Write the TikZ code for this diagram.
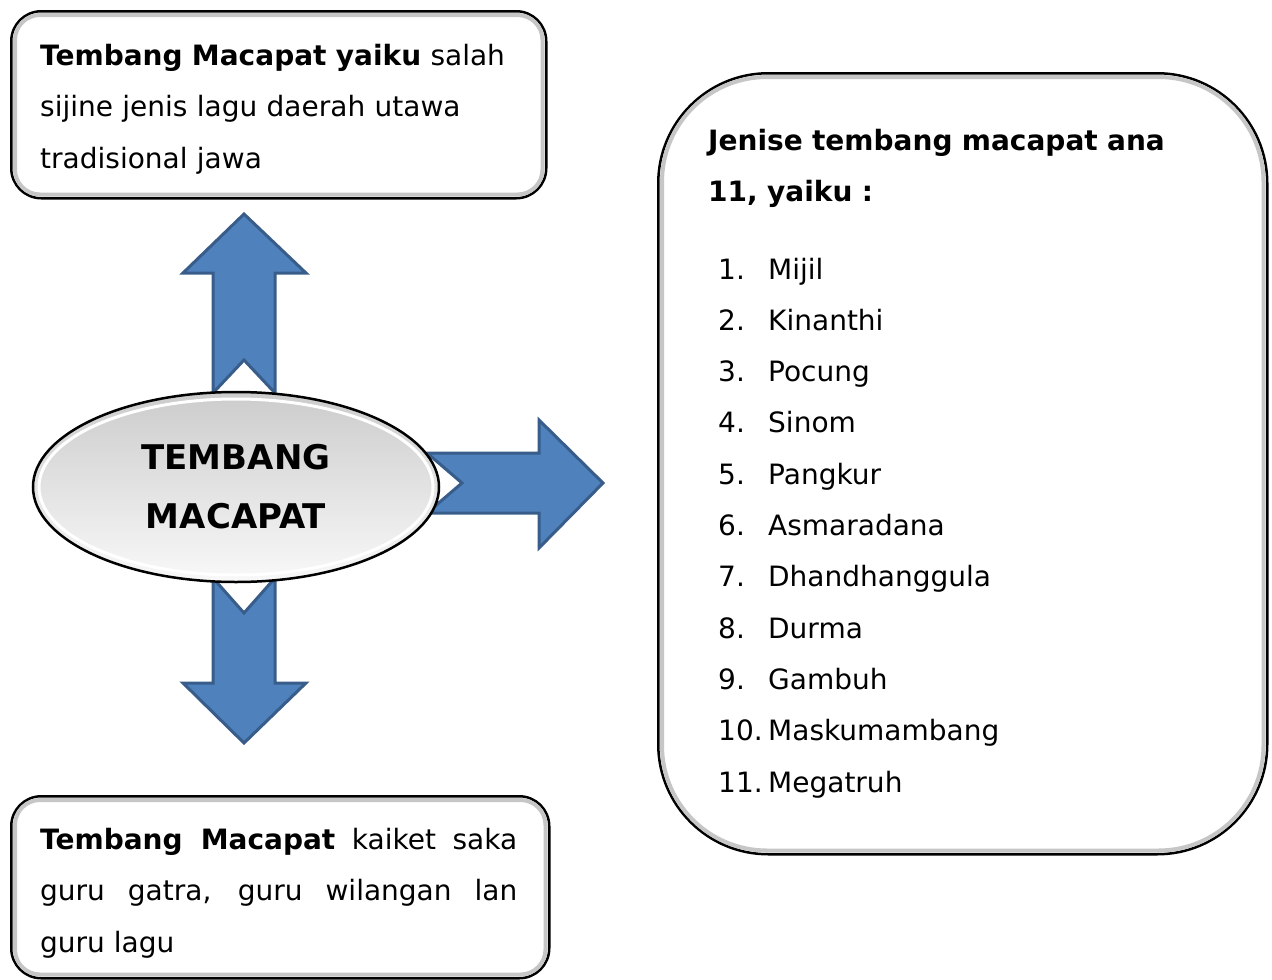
\documentclass[tikz,border=0pt]{standalone}
\usepackage{fontspec}
\setmainfont{DejaVu Sans}
\usetikzlibrary{shapes.geometric}

\definecolor{arrowfill}{HTML}{4F81BD}
\definecolor{arrowline}{HTML}{385D8A}

\tikzset{
  box/.style={draw=black, line width=2.5pt, fill=white, inner sep=0pt, anchor=north west},
  bevel/.style={draw=gray!45, line width=4pt},
  blockarrow/.style={fill=arrowfill, draw=arrowline, line width=3pt, line join=miter},
  body/.style={anchor=base west, inner sep=0pt, font=\fontsize{28}{51.5}\selectfont},
}

\begin{document}
\begin{tikzpicture}[x=1pt, y=-1pt]
  \useasboundingbox (0,0) rectangle (1272,980);

  % boxes
  \node[box, rounded corners=30pt, minimum width=535pt, minimum height=187pt] (defbox) at (10,10) {};
  \draw[bevel, rounded corners=25pt] ([shift={(5,5)}]defbox.north west) rectangle ([shift={(-5,-5)}]defbox.south east);
  \node[box, rounded corners=110pt, minimum width=609pt, minimum height=781pt] (jenisbox) at (657,72) {};
  \draw[bevel, rounded corners=105pt] ([shift={(5,5)}]jenisbox.north west) rectangle ([shift={(-5,-5)}]jenisbox.south east);
  \node[box, rounded corners=30pt, minimum width=538pt, minimum height=182pt] (aturanbox) at (10,795) {};
  \draw[bevel, rounded corners=25pt] ([shift={(5,5)}]aturanbox.north west) rectangle ([shift={(-5,-5)}]aturanbox.south east);

  % arrows
  \draw[blockarrow] (213,393) -- (213,273) -- (183,273) -- (244,214) -- (306,273) -- (275,273) -- (275,393) -- (244,360) -- cycle;
  \draw[blockarrow] (213,578) -- (244,613) -- (275,578) -- (275,683) -- (306,683) -- (244,743) -- (183,683) -- (213,683) -- cycle;
  \draw[blockarrow] (427,453) -- (539,453) -- (539,420) -- (603,483) -- (539,548) -- (539,513) -- (427,513) -- (462,483) -- cycle;

  % centre
  \node[ellipse, draw=black, line width=2.5pt, top color=gray!40, bottom color=gray!5,
        minimum width=406pt, minimum height=190pt, align=center,
        font=\bfseries\fontsize{34}{59}\selectfont] (tembang) at (236,487) {TEMBANG\\MACAPAT};
  \draw[white, line width=3pt] (tembang.center) ellipse (197 and 88);

  % texts
  \node[body, text width=490pt, align=left] (definisi) at (40,65)
    {\textbf{Tembang Macapat yaiku} salah\\sijine jenis lagu daerah utawa\\tradisional jawa};
  \node[body, text width=540pt, align=left, font=\bfseries\fontsize{28}{51}\selectfont] (jenis) at (708,150)
    {Jenise tembang macapat ana\\11, yaiku :};
  \node[body, font=\fontsize{28}{51.3}\selectfont] (daftar) at (718,279)
    {\begin{tabular}[t]{@{}p{50pt}@{}l@{}}
      1. & Mijil\\ 2. & Kinanthi\\ 3. & Pocung\\ 4. & Sinom\\ 5. & Pangkur\\ 6. & Asmaradana\\
      7. & Dhandhanggula\\ 8. & Durma\\ 9. & Gambuh\\ 10. & Maskumambang\\ 11. & Megatruh
    \end{tabular}};
  \node[body, text width=477pt, align=justify] (aturan) at (40,849)
    {\textbf{Tembang Macapat} kaiket saka\linebreak guru gatra, guru wilangan lan\linebreak guru lagu};
\end{tikzpicture}
\end{document}
